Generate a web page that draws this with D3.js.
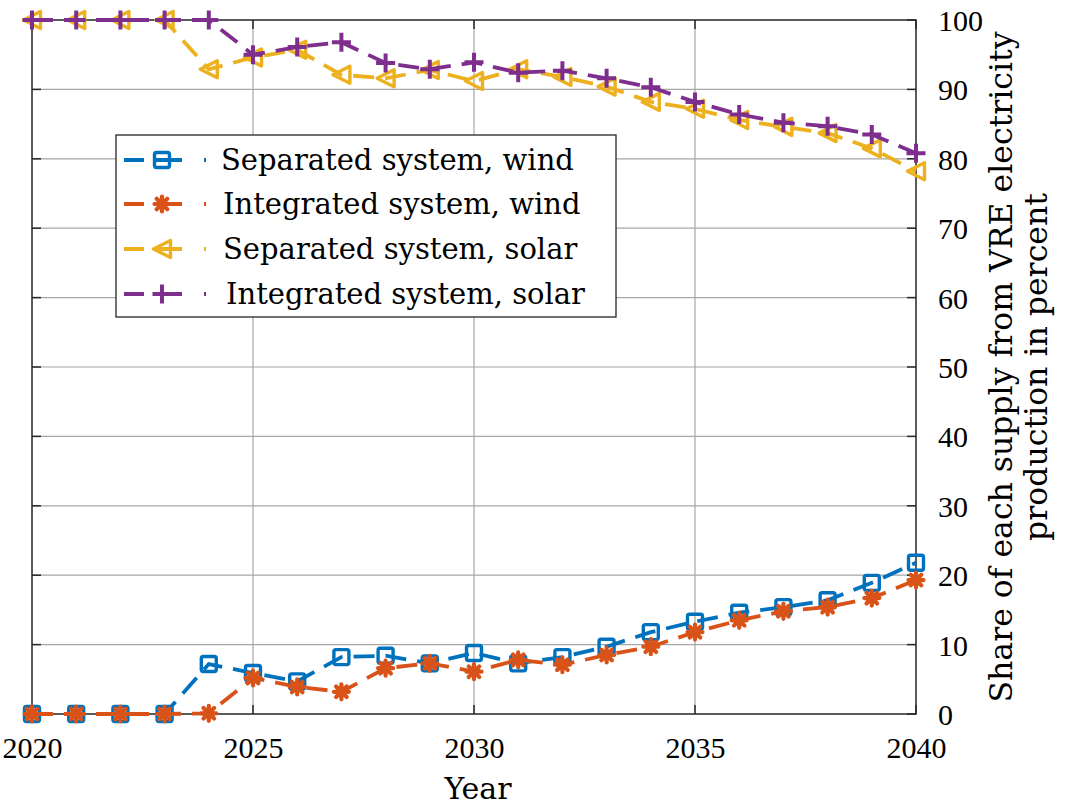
<!DOCTYPE html>
<html><head><meta charset="utf-8">
<script src="https://cdn.jsdelivr.net/npm/d3@7"></script>
<style>body{margin:0;background:#fff}svg{display:block}</style>
</head><body><svg id="c" width="1068" height="805"></svg>
<script>
const years = d3.range(2020, 2041);
const sepWind = [0,0,0,0,7.2,5.9,4.7,8.2,8.4,7.3,8.8,7.3,8.2,9.7,11.8,13.3,14.6,15.4,16.4,18.9,21.8];
const intWind = [0,0,0,0,0.1,5.2,3.9,3.2,6.6,7.3,6.1,7.8,7.1,8.5,9.7,11.8,13.5,14.8,15.4,16.7,19.3];
const sepSolar = [100,100,100,100,92.9,94.6,95.7,92.1,91.6,92.8,91.2,92.9,91.8,90.4,88.2,87.2,85.6,84.6,83.7,81.5,78.2];
const intSolar = [100,100,100,100,100,95.0,96.1,96.8,93.8,92.9,93.9,92.4,92.7,91.6,90.3,88.2,86.4,85.2,84.7,83.5,80.8];
const seriesNames = ["Separated system, wind","Integrated system, wind","Separated system, solar","Integrated system, solar"];
const yTicks = [0,10,20,30,40,50,60,70,80,90,100];
const xTicks = [2020,2025,2030,2035,2040];
const colors = ["#0072BD","#D95319","#EDB120","#7E2F8E"];
const markers = ["square","asterisk","triangleLeft","plus"];

const WORD_FONT = "'DejaVu Serif', serif";
const NUM_FONT = "'Liberation Serif', serif";
const svg = d3.select("#c");
const L=32, R=916, T=20, B=714;
const x = d3.scaleLinear().domain([2020,2040]).range([L,R]);
const y = d3.scaleLinear().domain([0,100]).range([B,T]);

const g = svg.append("g");
g.selectAll(".gx").data(xTicks.slice(1,-1)).join("line")
  .attr("x1",d=>x(d)).attr("x2",d=>x(d)).attr("y1",T).attr("y2",B)
  .attr("stroke","#a6a6a6").attr("stroke-width",1.2);
g.selectAll(".gy").data(yTicks.slice(1,-1)).join("line")
  .attr("x1",L).attr("x2",R).attr("y1",d=>y(d)).attr("y2",d=>y(d))
  .attr("stroke","#a6a6a6").attr("stroke-width",1.2);

svg.append("rect").attr("x",L).attr("y",T).attr("width",R-L).attr("height",B-T)
  .attr("fill","none").attr("stroke","#262626").attr("stroke-width",1.5);
const tk=9;
xTicks.forEach(d=>{
  svg.append("line").attr("x1",x(d)).attr("x2",x(d)).attr("y1",B).attr("y2",B-tk).attr("stroke","#262626").attr("stroke-width",1.5);
  svg.append("line").attr("x1",x(d)).attr("x2",x(d)).attr("y1",T).attr("y2",T+tk).attr("stroke","#262626").attr("stroke-width",1.5);
});
yTicks.forEach(d=>{
  svg.append("line").attr("x1",L).attr("x2",L+tk).attr("y1",y(d)).attr("y2",y(d)).attr("stroke","#262626").attr("stroke-width",1.5);
  svg.append("line").attr("x1",R).attr("x2",R-tk).attr("y1",y(d)).attr("y2",y(d)).attr("stroke","#262626").attr("stroke-width",1.5);
});

const xa = svg.append("g").attr("transform",`translate(0,${B})`)
  .call(d3.axisBottom(x).tickValues(xTicks).tickFormat(d3.format("d")).tickSize(0).tickPadding(23));
const ya = svg.append("g").attr("transform",`translate(${R},0)`)
  .call(d3.axisRight(y).tickValues(yTicks).tickSize(0).tickPadding(22));
[xa,ya].forEach(a=>{a.select(".domain").remove(); a.selectAll("text").style("font-size","30px").style("font-family",NUM_FONT).attr("fill","#000");});
ya.selectAll("text").attr("dy","0.35em");

svg.append("text").attr("x",478).attr("y",799).attr("text-anchor","middle")
  .style("font-size","30px").style("font-family",WORD_FONT).text("Year");
const yl = svg.append("text").attr("transform","translate(1012,367) rotate(-90)").attr("text-anchor","middle")
  .style("font-size","31.5px").style("font-family",WORD_FONT);
yl.append("tspan").attr("x",0).attr("dy",0).text("Share of each supply from VRE electricity");
yl.append("tspan").attr("x",0).attr("dy",35).text("production in percent");

function drawMarker(sel, type, color, s){
  const sw=3.4;
  if(type==="square"){
    sel.append("rect").attr("x",-s/2).attr("y",-s/2).attr("width",s).attr("height",s).attr("rx",2)
      .attr("fill","none").attr("stroke",color).attr("stroke-width",sw);
  } else if(type==="asterisk"){
    const r=s/2; let p="";
    [0,45,90,135].forEach(a=>{const c=Math.cos(a*Math.PI/180)*r, si=Math.sin(a*Math.PI/180)*r; p+=`M${-c},${-si}L${c},${si}`;});
    sel.append("path").attr("d",p).attr("stroke",color).attr("stroke-width",sw+0.8).attr("stroke-linecap","round").attr("fill","none");
  } else if(type==="triangleLeft"){
    const r=s/2;
    sel.append("path").attr("d",`M${-r},0L${r},${-r}L${r},${r}Z`).attr("fill","none").attr("stroke",color).attr("stroke-width",sw).attr("stroke-linejoin","round");
  } else if(type==="plus"){
    const r=s/2;
    sel.append("path").attr("d",`M${-r},0L${r},0M0,${-r}L0,${r}`).attr("stroke",color).attr("stroke-width",sw+0.6).attr("fill","none");
  }
}
const sizes=[15,15,17,19];
const data=[sepWind,intWind,sepSolar,intSolar];
const line = d3.line().x((d,i)=>x(years[i])).y(d=>y(d));
data.forEach((vals,k)=>{
  svg.append("path").datum(vals).attr("d",line).attr("fill","none")
    .attr("stroke",colors[k]).attr("stroke-width",3.8).attr("stroke-dasharray","21,11");
  const mg = svg.append("g");
  vals.forEach((v,i)=>{
    const m = mg.append("g").attr("transform",`translate(${x(years[i])},${y(v)})`);
    drawMarker(m, markers[k], colors[k], sizes[k]);
  });
});

const lg = svg.append("g");
lg.append("rect").attr("x",116).attr("y",135).attr("width",500).attr("height",182)
  .attr("fill","#fff").attr("stroke","#262626").attr("stroke-width",1.3);
const ly=[160,204,249,294];
const lx=[221,223,223,226];
seriesNames.forEach((n,k)=>{
  lg.append("line").attr("x1",124).attr("x2",206).attr("y1",ly[k]).attr("y2",ly[k])
    .attr("stroke",colors[k]).attr("stroke-width",3.8).attr("stroke-dasharray","20,12,26,22,2,100");
  const m=lg.append("g").attr("transform",`translate(162,${ly[k]})`);
  drawMarker(m, markers[k], colors[k], sizes[k]);
  lg.append("text").attr("x",lx[k]).attr("y",ly[k]).attr("dy","0.36em")
    .style("font-size","29px").style("font-family",WORD_FONT).text(n);
});
</script></body></html>
